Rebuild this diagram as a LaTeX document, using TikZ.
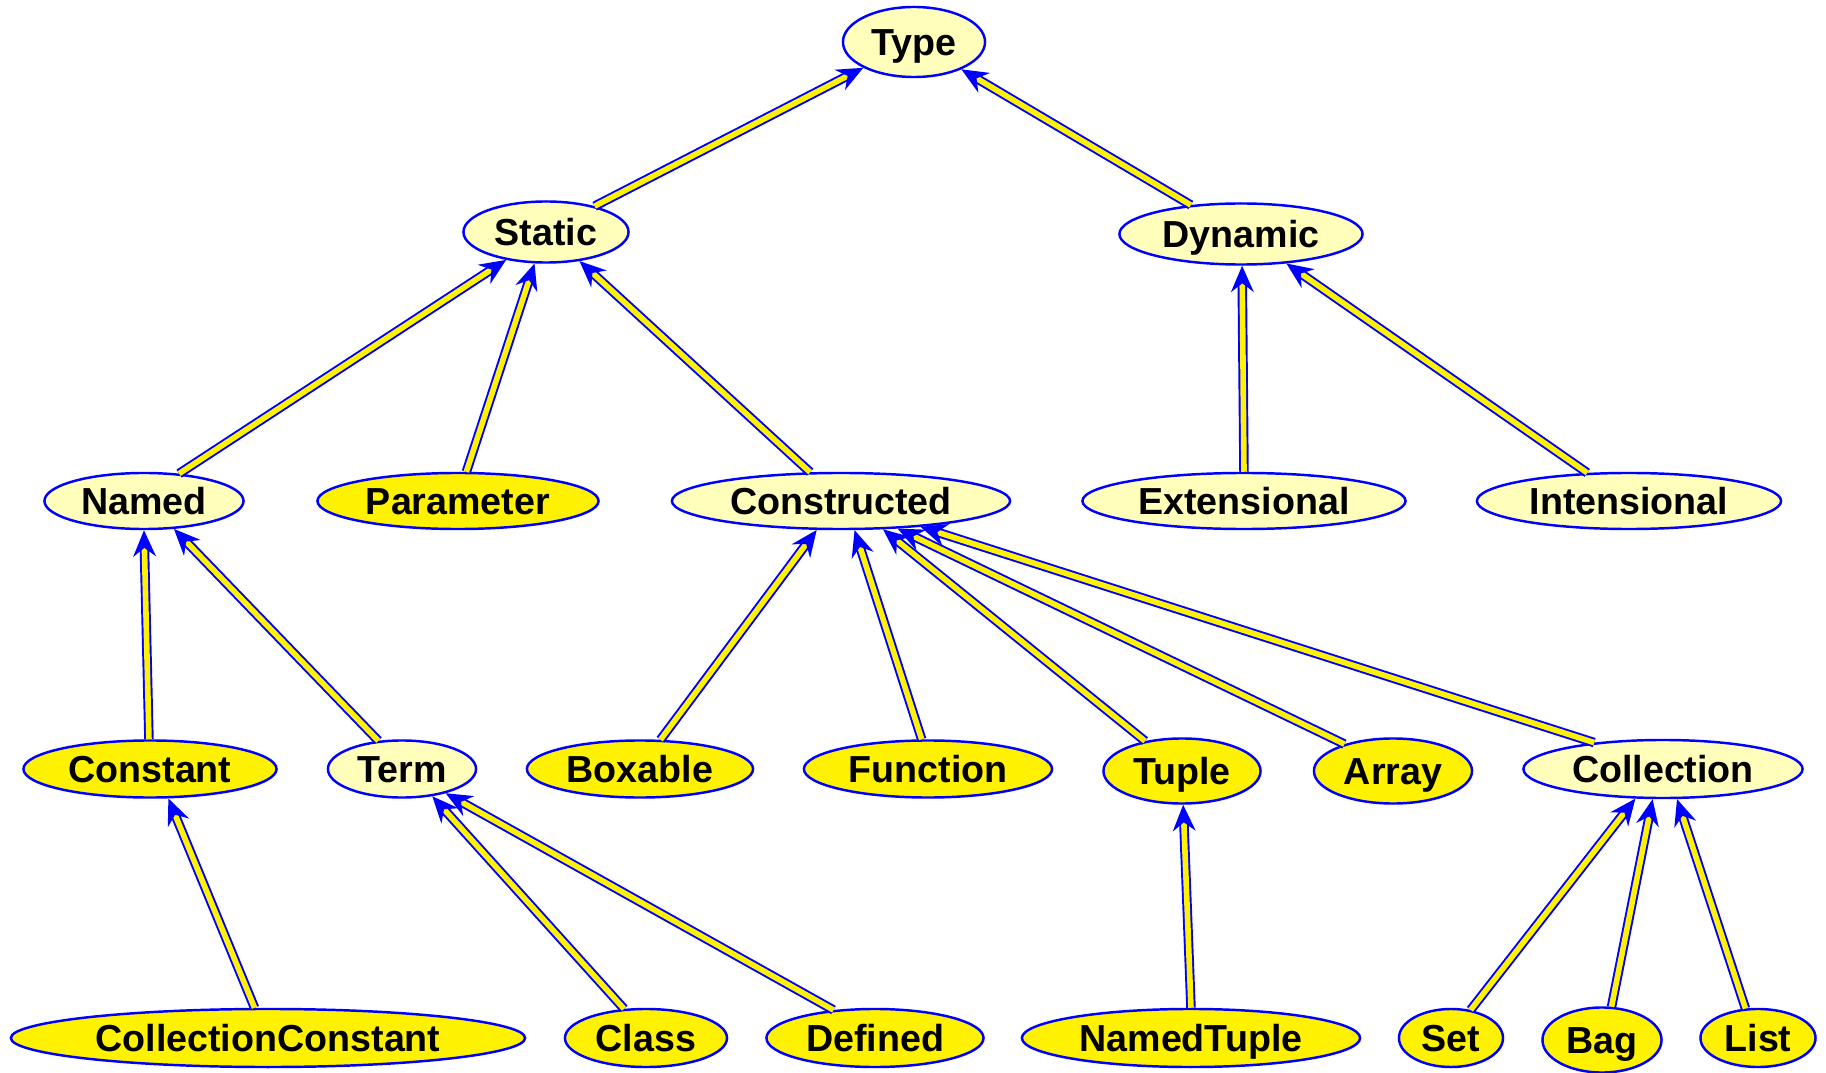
\documentclass[tikz,border=0pt]{standalone}
\usepackage{fontspec}
\setmainfont{Liberation Sans}
\usetikzlibrary{shapes.geometric}
\usetikzlibrary{arrows.meta}

\definecolor{paleyellow}{HTML}{FFFFBB}

\begin{document}
\begin{tikzpicture}
[x=0.01cm,y=-0.01cm,%
  every node/.style={shape=ellipse,draw=blue,line width=0.7pt,inner sep=0pt,%
    text height=7.7pt,text depth=0pt,%
    font=\fontsize{10.7}{12}\selectfont\bfseries},%
  inner/.style={fill=paleyellow},%
  leaf/.style={fill=yellow},%
  sz/.style 2 args={minimum width=#1cm,minimum height=#2cm},%
  isa/.style={draw=blue,line width=0.55pt,double=yellow,double distance=1.6pt,%
    -{Stealth[length=7.5pt,width=6.5pt,inset=2.5pt]}}]
\useasboundingbox (0,0) rectangle (1826,1073);
% top levels
\node[inner,sz={1.42}{0.70}] (type) at (914,42) {Type};
\node[inner,sz={1.65}{0.61}] (static) at (546,232) {Static};
\node[inner,sz={2.43}{0.61}] (dynamic) at (1241,234) {Dynamic};
\node[inner,sz={1.99}{0.56}] (named) at (144,501) {Named};
\node[leaf,sz={2.81}{0.56}] (parameter) at (458,501) {Parameter};
\node[inner,sz={3.38}{0.56}] (constructed) at (841,501) {Constructed};
\node[inner,sz={3.23}{0.56}] (extensional) at (1244,501) {Extensional};
\node[inner,sz={3.04}{0.56}] (intensional) at (1629,501) {Intensional};
% third level
\node[leaf,sz={2.53}{0.57}] (constant) at (150,769) {Constant};
\node[inner,sz={1.48}{0.57}] (term) at (402,769) {Term};
\node[leaf,sz={2.26}{0.57}] (boxable) at (640,769) {Boxable};
\node[leaf,sz={2.48}{0.57}] (function) at (928,769) {Function};
\node[leaf,sz={1.57}{0.65}] (tuple) at (1182,771) {Tuple};
\node[leaf,sz={1.58}{0.65}] (array) at (1393,771) {Array};
\node[inner,sz={2.79}{0.58}] (collection) at (1663,769) {Collection};
% bottom row
\node[leaf,sz={5.14}{0.58}] (collconst) at (268,1038) {CollectionConstant};
\node[leaf,sz={1.62}{0.58}] (class) at (646,1038) {Class};
\node[leaf,sz={2.17}{0.58}] (defined) at (875,1038) {Defined};
\node[leaf,sz={3.38}{0.58}] (namedtuple) at (1191,1038) {NamedTuple};
\node[leaf,sz={1.04}{0.58}] (set) at (1451,1038) {Set};
\node[leaf,sz={1.19}{0.65}] (bag) at (1602,1040) {Bag};
\node[leaf,sz={1.15}{0.58}] (list) at (1758,1038) {List};
% edges, child to parent
\draw[isa] (static.28) -- (type.207);
\draw[isa] (dynamic.150) -- (type.330);
\draw[isa] (named.38) -- (static.215);
\draw[isa] (parameter.74) -- (static.250);
\draw[isa] (constructed.137) -- (static.319);
\draw[isa] (extensional.90) -- (dynamic.272);
\draw[isa] (intensional.146) -- (dynamic.327);
\draw[isa] (constant.92) -- (named.270);
\draw[isa] (term.130) -- (named.317);
\draw[isa] (boxable.55) -- (constructed.230);
\draw[isa] (function.102) -- (constructed.295);
\draw[isa] (tuple.141) -- (constructed.326);
\draw[isa] (array.151) -- (constructed.334);
\draw[isa] (collection.159) -- (constructed.342);
\draw[isa] (collconst.114) -- (constant.302);
\draw[isa] (class.127) -- (term.318);
\draw[isa] (defined.146) -- (term.331);
\draw[isa] (namedtuple.90) -- (tuple.272);
\draw[isa] (set.55) -- (collection.227);
\draw[isa] (bag.74) -- (collection.251);
\draw[isa] (list.113) -- (collection.295);
\end{tikzpicture}
\end{document}
